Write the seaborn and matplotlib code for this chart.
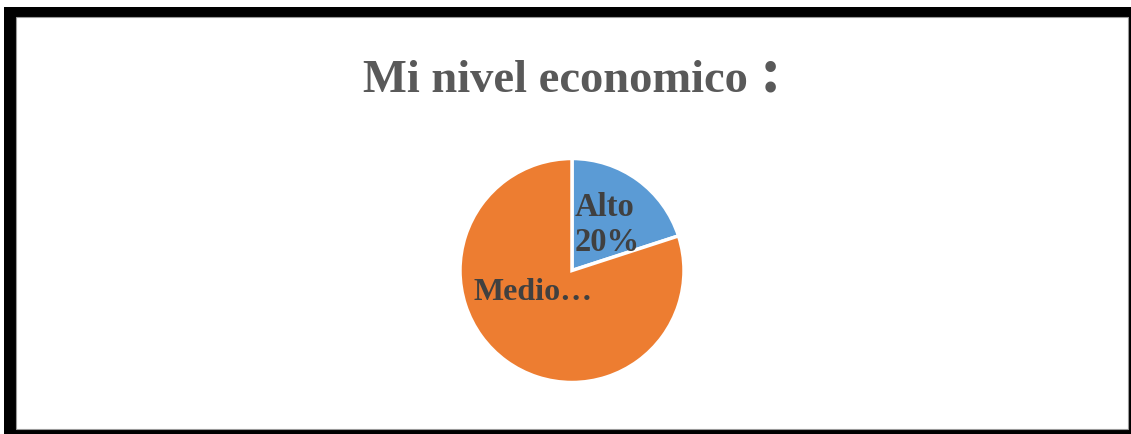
import matplotlib
matplotlib.use("Agg")
import matplotlib.pyplot as plt
from matplotlib.patches import Rectangle
import seaborn as sns

# Data
categories = ["Alto", "Medio"]
shares = [20, 80]
slice_colors = ["#5B9BD5", "#ED7D31"]
title_text = "Mi nivel economico"

sns.set_theme(style="white")
plt.rcParams["font.family"] = ["Liberation Serif", "DejaVu Serif"]

W, H, DPI = 1131, 435, 100
fig = plt.figure(figsize=(W / DPI, H / DPI), dpi=DPI)
fig.patch.set_facecolor("white")

# Framed panel: heavy black border with white interior
def px_rect(x0, y0, x1, y1, **kw):
    return Rectangle((x0 / W, 1 - y1 / H), (x1 - x0) / W, (y1 - y0) / H,
                     transform=fig.transFigure, **kw)

fig.patches.append(px_rect(4, 8, 1131, 435, facecolor="black", edgecolor="none", zorder=0))
fig.patches.append(px_rect(16, 18, 1128, 430, facecolor="white", edgecolor="#9a9a9a",
                           linewidth=0.8, zorder=1))

# Title
fig.text(363 / W, 1 - 92 / H, title_text, ha="left", va="baseline",
         fontsize=33.5, fontweight="bold", color="#595959", zorder=6)
fig.text(760 / W, 1 - 92 / H, ":", ha="left", va="baseline",
         fontsize=47, fontweight="bold", color="#595959", zorder=6)

# Pie
cx, cy, r = 572, 271.5, 112
ax = fig.add_axes([(cx - r) / W, (H - cy - r) / H, 2 * r / W, 2 * r / H])
ax.set_zorder(5)
ax.patch.set_alpha(0)
palette = sns.color_palette(slice_colors)
wedges, _ = ax.pie(shares, colors=palette, startangle=90, counterclock=False,
                   radius=1.0, wedgeprops=dict(edgecolor="white", linewidth=2.5))
for w in wedges:
    w.set_clip_on(False)
ax.set_xlim(-1.0, 1.0)
ax.set_ylim(-1.0, 1.0)
ax.set_aspect("equal")
ax.axis("off")

label_color = "#404040"
ax.text(0.02, 0.71, f"{categories[0]}\n{shares[0]}%", ha="left", va="top",
        fontsize=23.5, fontweight="bold", color=label_color, linespacing=1.15)
ax.text(-0.88, -0.255, f"{categories[1]}…", ha="left", va="baseline",
        fontsize=23, fontweight="bold", color=label_color)

fig.savefig("out.png", dpi=DPI)
